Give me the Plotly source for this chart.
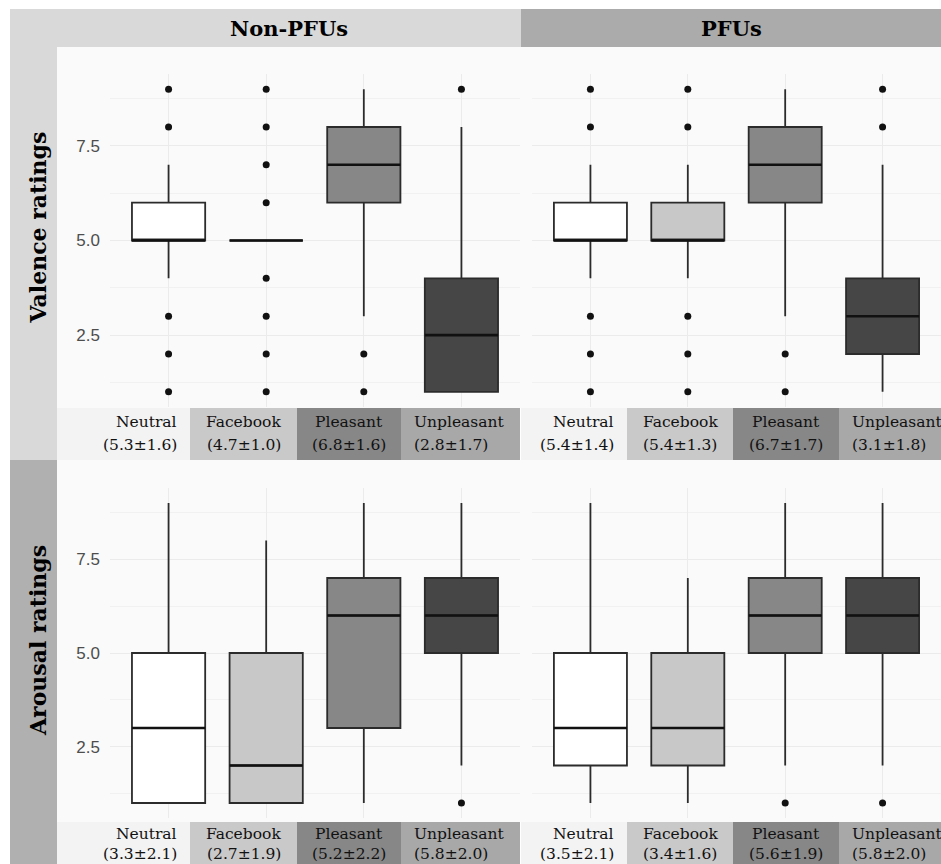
import plotly.graph_objects as go

# ---- data -------------------------------------------------------------
categories = ["Neutral", "Facebook", "Pleasant", "Unpleasant"]
groups = ["Non-PFUs", "PFUs"]
measures = ["Valence ratings", "Arousal ratings"]

# Valence, Non-PFUs
val_non_lower = [4, 5, 3, 1]
val_non_q1 = [5, 5, 6, 1]
val_non_med = [5, 5, 7, 2.5]
val_non_q3 = [6, 5, 8, 4]
val_non_upper = [7, 5, 9, 8]
val_non_out = [[1, 2, 3, 8, 9], [1, 2, 3, 4, 6, 7, 8, 9], [1, 2], [9]]
val_non_stats = ["(5.3±1.6)", "(4.7±1.0)", "(6.8±1.6)", "(2.8±1.7)"]

# Valence, PFUs
val_pfu_lower = [4, 4, 3, 1]
val_pfu_q1 = [5, 5, 6, 2]
val_pfu_med = [5, 5, 7, 3]
val_pfu_q3 = [6, 6, 8, 4]
val_pfu_upper = [7, 7, 9, 7]
val_pfu_out = [[1, 2, 3, 8, 9], [1, 2, 3, 8, 9], [1, 2], [8, 9]]
val_pfu_stats = ["(5.4±1.4)", "(5.4±1.3)", "(6.7±1.7)", "(3.1±1.8)"]

# Arousal, Non-PFUs
aro_non_lower = [1, 1, 1, 2]
aro_non_q1 = [1, 1, 3, 5]
aro_non_med = [3, 2, 6, 6]
aro_non_q3 = [5, 5, 7, 7]
aro_non_upper = [9, 8, 9, 9]
aro_non_out = [[], [], [], [1]]
aro_non_stats = ["(3.3±2.1)", "(2.7±1.9)", "(5.2±2.2)", "(5.8±2.0)"]

# Arousal, PFUs
aro_pfu_lower = [1, 1, 2, 2]
aro_pfu_q1 = [2, 2, 5, 5]
aro_pfu_med = [3, 3, 6, 6]
aro_pfu_q3 = [5, 5, 7, 7]
aro_pfu_upper = [9, 7, 9, 9]
aro_pfu_out = [[], [], [1], [1]]
aro_pfu_stats = ["(3.5±2.1)", "(3.4±1.6)", "(5.6±1.9)", "(5.8±2.0)"]

y_ticks = [2.5, 5.0, 7.5]

# ---- styling ----------------------------------------------------------
W, H = 941, 864
box_fill = ["#ffffff", "#c8c8c8", "#878787", "#464646"]
label_fill = ["#f3f3f3", "#c9c9c9", "#878787", "#a8a8a8"]
panel_bg = "#fafafa"
grid_major = "#ebebeb"
grid_minor = "#f1f1f1"
BOX_W = 0.75
SERIF = "DejaVu Serif"


def px(x):
    return x / W


def py(y):
    return 1 - y / H


panels = [
    # (x axis id, y axis id, data, x domain px, y domain px)
    ("x", "y", (val_non_lower, val_non_q1, val_non_med, val_non_q3, val_non_upper, val_non_out),
     (110, 520), (74, 407)),
    ("x2", "y2", (val_pfu_lower, val_pfu_q1, val_pfu_med, val_pfu_q3, val_pfu_upper, val_pfu_out),
     (532, 941), (74, 407)),
    ("x3", "y3", (aro_non_lower, aro_non_q1, aro_non_med, aro_non_q3, aro_non_upper, aro_non_out),
     (110, 520), (488, 818)),
    ("x4", "y4", (aro_pfu_lower, aro_pfu_q1, aro_pfu_med, aro_pfu_q3, aro_pfu_upper, aro_pfu_out),
     (532, 941), (488, 818)),
]

fig = go.Figure()
layout_axes = {}

for xa, ya, stats, xdom, ydom in panels:
    lower, q1, med, q3, upper, outs = stats
    pos = list(range(1, len(categories) + 1))
    for i, c in enumerate(pos):
        fig.add_trace(go.Box(
            x=[c], q1=[q1[i]], median=[med[i]], q3=[q3[i]],
            lowerfence=[lower[i]], upperfence=[upper[i]],
            width=BOX_W, whiskerwidth=0, boxpoints=False,
            fillcolor=box_fill[i], line=dict(color="#2b2b2b", width=1.8),
            xaxis=xa, yaxis=ya, showlegend=False, hoverinfo="skip",
        ))
    # thicker median bars
    mx, my = [], []
    for i, c in enumerate(pos):
        mx += [c - BOX_W / 2, c + BOX_W / 2, None]
        my += [med[i], med[i], None]
    fig.add_trace(go.Scatter(x=mx, y=my, mode="lines",
                             line=dict(color="#111111", width=2.6),
                             xaxis=xa, yaxis=ya, showlegend=False, hoverinfo="skip"))
    # outliers
    ox, oy = [], []
    for i, c in enumerate(pos):
        ox += [c] * len(outs[i])
        oy += outs[i]
    fig.add_trace(go.Scatter(x=ox, y=oy, mode="markers",
                             marker=dict(color="#111111", size=7),
                             xaxis=xa, yaxis=ya, showlegend=False, hoverinfo="skip"))

    xkey = "xaxis" + xa[1:]
    ykey = "yaxis" + ya[1:]
    layout_axes[xkey] = dict(
        domain=[px(xdom[0]), px(xdom[1])], range=[0.4, 4.6], anchor=ya,
        tickvals=pos, showticklabels=False, ticks="",
        showgrid=True, gridcolor=grid_major, gridwidth=1,
        zeroline=False, showline=False, fixedrange=True,
    )
    layout_axes[ykey] = dict(
        domain=[py(ydom[1]), py(ydom[0])], range=[0.6, 9.4], anchor=xa,
        tickvals=y_ticks, ticktext=[f"{v:.1f}" for v in y_ticks],
        showticklabels=(xa in ("x", "x3")), ticks="", ticklabelstandoff=9,
        tickfont=dict(family="Liberation Sans", size=17, color="#4d4d4d"),
        showgrid=True, gridcolor=grid_major, gridwidth=1,
        minor=dict(tickvals=[1.25, 3.75, 6.25, 8.75], showgrid=True,
                   gridcolor=grid_minor, gridwidth=0.8),
        zeroline=False, showline=False, fixedrange=True,
    )

shapes = []
annotations = []

# panel backgrounds (tick column included)
for top, bottom in [(47, 408), (460, 822)]:
    shapes.append(dict(type="rect", xref="paper", yref="paper", layer="below",
                       x0=px(57), x1=px(941), y0=py(bottom), y1=py(top),
                       fillcolor=panel_bg, line=dict(width=0)))

# top strips
strip_cols = ["#d9d9d9", "#ababab"]
strip_x = [(10, 521), (521, 941)]
text_x = [(57, 521), (521, 941)]
for g, (x0, x1), (tx0, tx1), col in zip(groups, strip_x, text_x, strip_cols):
    shapes.append(dict(type="rect", xref="paper", yref="paper", layer="below",
                       x0=px(x0), x1=px(x1), y0=py(47), y1=py(9),
                       fillcolor=col, line=dict(width=0)))
    annotations.append(dict(text=f"<b>{g}</b>", xref="paper", yref="paper",
                            x=px((tx0 + tx1) / 2), y=py(28), showarrow=False,
                            xanchor="center", yanchor="middle",
                            font=dict(family=SERIF, size=21, color="#000000")))

# side strips
side_cols = ["#d9d9d9", "#b0b0b0"]
side_y = [(47, 460), (460, 864)]
side_text_y = [(47, 408), (460, 822)]
for m, (y0, y1), (ty0, ty1), col in zip(measures, side_y, side_text_y, side_cols):
    shapes.append(dict(type="rect", xref="paper", yref="paper", layer="below",
                       x0=px(10), x1=px(57), y0=py(y1), y1=py(y0),
                       fillcolor=col, line=dict(width=0)))
    annotations.append(dict(text=f"<b>{m}</b>", xref="paper", yref="paper",
                            x=px(38), y=py((ty0 + ty1) / 2), showarrow=False,
                            textangle=-90, xanchor="center", yanchor="middle",
                            font=dict(family=SERIF, size=22, color="#000000")))

# category label bands: (cell edges, band top/bottom, line centres, texts)
cells_left = [57, 190, 297, 401, 520]
cells_right = [521, 627, 733, 839, 941]
bands = [
    (cells_left, (408, 460), (422, 445), val_non_stats),
    (cells_right, (408, 460), (422, 445), val_pfu_stats),
    (cells_left, (822, 864), (834, 854), aro_non_stats),
    (cells_right, (822, 864), (834, 854), aro_pfu_stats),
]
PAD = 11
for cells, (by0, by1), (ly1, ly2), stat_txt in bands:
    for i, cat in enumerate(categories):
        c0, c1 = cells[i], cells[i + 1]
        shapes.append(dict(type="rect", xref="paper", yref="paper", layer="below",
                           x0=px(c0), x1=px(c1), y0=py(by1), y1=py(by0),
                           fillcolor=label_fill[i], line=dict(width=0)))
        if i == 0:
            tx, anc = c1 - PAD, "right"
        elif i == len(categories) - 1:
            tx, anc = c0 + PAD, "left"
        else:
            tx, anc = (c0 + c1) / 2, "center"
        for line_txt, ly in ((cat, ly1), (stat_txt[i], ly2)):
            annotations.append(dict(text=line_txt, xref="paper", yref="paper",
                                    x=px(tx), y=py(ly), showarrow=False,
                                    xanchor=anc, yanchor="middle",
                                    font=dict(family=SERIF, size=15.5, color="#111111")))

fig.update_layout(
    width=W, height=H,
    margin=dict(l=0, r=0, t=0, b=0),
    paper_bgcolor="#ffffff",
    plot_bgcolor="rgba(0,0,0,0)",
    showlegend=False,
    shapes=shapes,
    annotations=annotations,
    **layout_axes,
)

fig.write_html("out.html")
